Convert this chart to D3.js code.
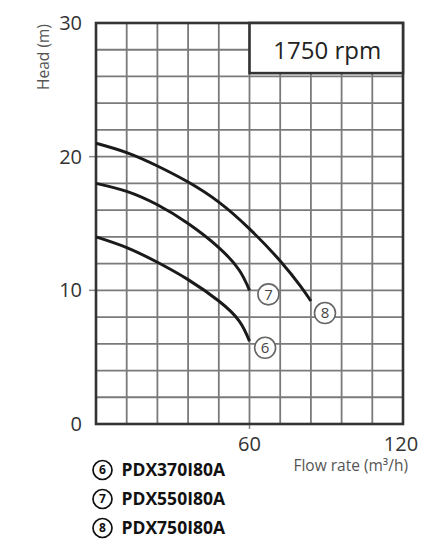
<!DOCTYPE html>
<html>
<head>
<meta charset="utf-8">
<script src="https://cdn.jsdelivr.net/npm/d3@7"></script>
<style>
  html, body { margin: 0; padding: 0; background: #fff; }
  svg { display: block; font-family: "Open Sans", "Noto Sans", sans-serif; }
</style>
</head>
<body>
<svg id="chart" width="438" height="542"></svg>
<script>
// ---- data ----
const flowTicks = [60, 120];
const headTicks = [0, 10, 20, 30];
const flowGrid = d3.range(0, 121, 12);
const headGrid = d3.range(0, 31, 2);

const curve6Flow = [0, 12, 24, 36, 48, 56, 60];
const curve6Head = [14.0, 13.2, 12.1, 10.8, 9.2, 7.7, 6.2];
const curve7Flow = [0, 12, 24, 36, 48, 56, 60];
const curve7Head = [18.0, 17.4, 16.4, 15.0, 13.2, 11.5, 10.0];
const curve8Flow = [0, 12, 24, 36, 48, 60, 72, 80, 84];
const curve8Head = [21.0, 20.3, 19.3, 18.1, 16.6, 14.6, 12.2, 10.3, 9.2];

const seriesIds = ["6", "7", "8"];
const seriesModels = ["PDX370I80A", "PDX550I80A", "PDX750I80A"];
const labelFlow = [66.1, 67.4, 89.5];
const labelHead = [5.7, 9.7, 8.3];

const speedLabel = "1750 rpm";
const speedBoxFlow = [60, 120];
const speedBoxHead = [26.25, 30];
const xTitle = "Flow rate (m³/h)";
const yTitle = "Head (m)";

// ---- chart ----
const svg = d3.select("#chart");
const x = d3.scaleLinear().domain([0, 120]).range([96, 403]);
const y = d3.scaleLinear().domain([0, 30]).range([424, 23]);

const grid = svg.append("g");
grid.selectAll("line.v").data(flowGrid).join("line")
  .attr("x1", d => x(d)).attr("x2", d => x(d))
  .attr("y1", y(0)).attr("y2", y(30))
  .attr("stroke", "#7a7a7a").attr("stroke-width", 1.8);
grid.selectAll("line.h").data(headGrid).join("line")
  .attr("y1", d => y(d)).attr("y2", d => y(d))
  .attr("x1", x(0)).attr("x2", x(120))
  .attr("stroke", "#7a7a7a").attr("stroke-width", 1.8);

// small outside ticks
svg.selectAll("line.yt").data([10, 20]).join("line")
  .attr("x1", x(0) - 7).attr("x2", x(0))
  .attr("y1", d => y(d)).attr("y2", d => y(d))
  .attr("stroke", "#888").attr("stroke-width", 1.5);
svg.selectAll("line.xt").data([60]).join("line")
  .attr("x1", d => x(d)).attr("x2", d => x(d))
  .attr("y1", y(0)).attr("y2", y(0) + 5)
  .attr("stroke", "#888").attr("stroke-width", 1.5);

// border
svg.append("rect")
  .attr("x", x(0)).attr("y", y(30))
  .attr("width", x(120) - x(0)).attr("height", y(0) - y(30))
  .attr("fill", "none").attr("stroke", "#333").attr("stroke-width", 2.6);

// speed box
svg.append("rect")
  .attr("x", x(speedBoxFlow[0])).attr("y", y(speedBoxHead[1]))
  .attr("width", x(speedBoxFlow[1]) - x(speedBoxFlow[0]))
  .attr("height", y(speedBoxHead[0]) - y(speedBoxHead[1]))
  .attr("fill", "#fff").attr("stroke", "#333").attr("stroke-width", 2.6);
svg.append("text")
  .attr("x", (x(speedBoxFlow[0]) + x(speedBoxFlow[1])) / 2 + 1)
  .attr("y", 58.5)
  .attr("text-anchor", "middle")
  .attr("font-size", 24).attr("fill", "#222")
  .text(speedLabel);

// curves
const line = d3.line().x(d => x(d[0])).y(d => y(d[1])).curve(d3.curveNatural);
const curves = [
  d3.zip(curve6Flow, curve6Head),
  d3.zip(curve7Flow, curve7Head),
  d3.zip(curve8Flow, curve8Head)
];
svg.selectAll("path.curve").data(curves).join("path")
  .attr("d", line)
  .attr("fill", "none").attr("stroke", "#1a1a1a").attr("stroke-width", 3);

// curve labels
const lab = svg.selectAll("g.lab").data(seriesIds).join("g")
  .attr("transform", (d, i) => `translate(${x(labelFlow[i])},${y(labelHead[i])})`);
lab.append("circle").attr("r", 10.5)
  .attr("fill", "#fff").attr("stroke", "#666").attr("stroke-width", 1.6);
lab.append("text").attr("text-anchor", "middle").attr("dy", "0.36em")
  .attr("font-size", 15).attr("fill", "#444").text(d => d);

// y tick labels
svg.selectAll("text.yl").data(headTicks).join("text")
  .attr("x", 82).attr("y", d => y(d) + 7)
  .attr("text-anchor", "end").attr("font-size", 20).attr("fill", "#333")
  .text(d => d);

// x tick labels
svg.selectAll("text.xl").data(flowTicks).join("text")
  .attr("x", d => x(d) + (d === 120 ? -2 : 0)).attr("y", 451)
  .attr("text-anchor", "middle").attr("font-size", 20).attr("fill", "#333")
  .text(d => d);

// axis titles
svg.append("text")
  .attr("x", 408).attr("y", 471)
  .attr("text-anchor", "end").attr("font-size", 15.5).attr("fill", "#555")
  .text(xTitle);
svg.append("text")
  .attr("transform", "translate(49,57) rotate(-90)")
  .attr("text-anchor", "middle").attr("font-size", 15.5).attr("fill", "#555")
  .text(yTitle);

// legend
const leg = svg.selectAll("g.leg").data(seriesIds).join("g")
  .attr("transform", (d, i) => `translate(102.5,${470 + i * 29})`);
leg.append("circle").attr("r", 9.5)
  .attr("fill", "#fff").attr("stroke", "#111").attr("stroke-width", 1.7);
leg.append("text").attr("text-anchor", "middle").attr("dy", "0.36em")
  .attr("font-size", 12).attr("font-weight", "bold").attr("fill", "#111").text(d => d);
leg.append("text").attr("x", 19).attr("dy", "0.36em")
  .attr("font-size", 17.5).attr("font-weight", "bold").attr("fill", "#111")
  .text((d, i) => seriesModels[i]);
</script>
</body>
</html>
